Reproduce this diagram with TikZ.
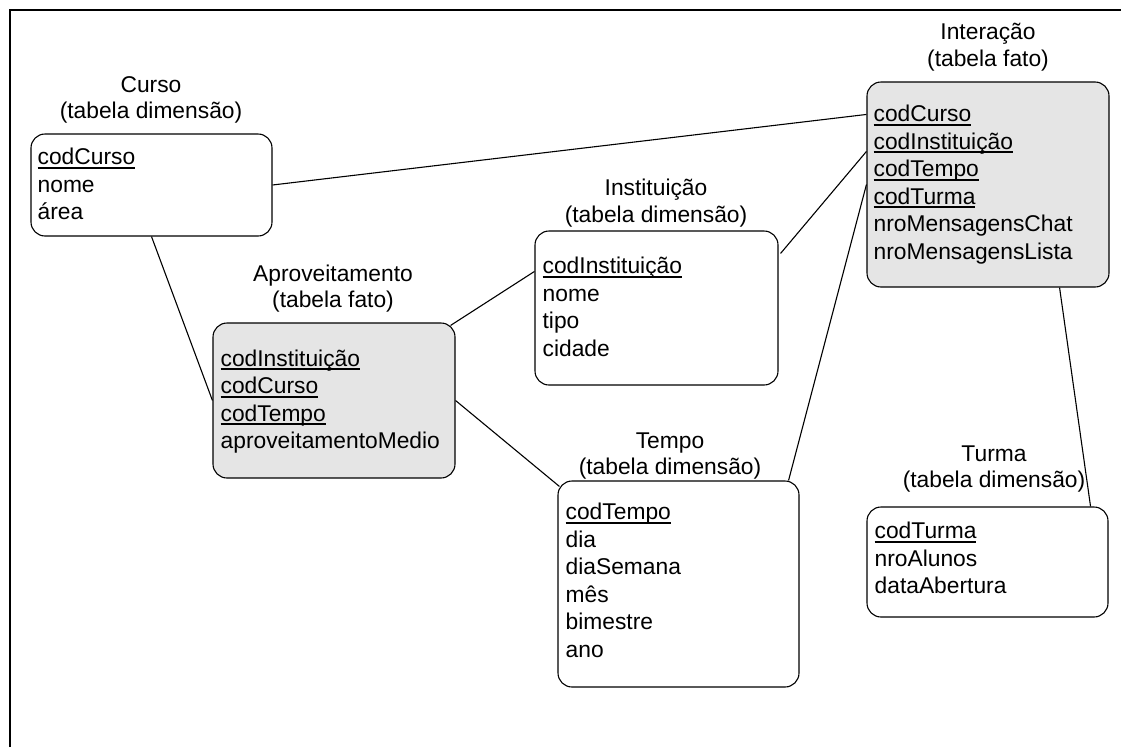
\documentclass[tikz,border=0pt]{standalone}
\usepackage{fontspec}
\setmainfont{Liberation Sans}
\definecolor{factgray}{RGB}{229,229,229}
% key attribute: underline drawn just under the baseline, through any cedilla
\newcommand{\pk}[1]{\setbox0=\hbox{#1}\rlap{\rule[-4.2pt]{\wd0}{1.9pt}}\box0}
\begin{document}
\begin{tikzpicture}[x=1pt,y=-1pt,
  tbl/.style={draw=black, line width=1.1pt, rounded corners=14pt, inner sep=0pt},
  dim/.style={tbl, fill=white},
  fact/.style={tbl, fill=factgray},
  fields/.style={anchor=north west, inner sep=0pt, align=left,
                 font=\fontsize{22.8}{27.5}\selectfont},
  title/.style={anchor=south, inner sep=0pt, align=center,
                font=\fontsize{22.8}{26.8}\selectfont},
  link/.style={draw=black, line width=1.1pt},
  frame/.style={draw=black, line width=2pt}]

\useasboundingbox (0,0) rectangle (1121,747);

% outer frame (left and top edges)
\draw[frame] (10,747) -- (10,10) -- (1121,10);

% tables
\node[dim,  minimum width=241pt, minimum height=102pt] (curso) at (151.5,185)   {};
\node[fact, minimum width=242pt, minimum height=155pt] (aprov) at (334,400.5)   {};
\node[dim,  minimum width=243pt, minimum height=154pt] (inst)  at (656.5,308)   {};
\node[dim,  minimum width=241pt, minimum height=206pt] (tempo) at (678.5,584)   {};
\node[fact, minimum width=242pt, minimum height=205pt] (inter) at (988,184.5)   {};
\node[dim,  minimum width=241pt, minimum height=110pt] (turma) at (987.5,562)   {};

% table titles
\node[title] (cursoT) at (151,123.8) {Curso\\(tabela dimensão)};
\node[title] (aprovT) at (333,312.8) {Aproveitamento\\(tabela fato)};
\node[title] (instT)  at (656,227.5) {Instituição\\(tabela dimensão)};
\node[title] (tempoT) at (670,479.8) {Tempo\\(tabela dimensão)};
\node[title] (interT) at (988,71.5)  {Interação\\(tabela fato)};
\node[title] (turmaT) at (994,492.8) {Turma\\(tabela dimensão)};

% attributes
\node[fields] (cursoF) at ([xshift=7pt,yshift=-14.5pt]curso.north west)
  {\pk{codCurso}\\nome\\área};
\node[fields] (aprovF) at ([xshift=8pt,yshift=-27pt]aprov.north west)
  {\pk{codInstituição}\\\pk{codCurso}\\\pk{codTempo}\\aproveitamentoMedio};
\node[fields] (instF) at ([xshift=8pt,yshift=-26.5pt]inst.north west)
  {\pk{codInstituição}\\nome\\tipo\\cidade};
\node[fields] (tempoF) at ([xshift=8pt,yshift=-22.5pt]tempo.north west)
  {\pk{codTempo}\\dia\\diaSemana\\mês\\bimestre\\ano};
\node[fields] (interF) at ([xshift=7pt,yshift=-23.5pt]inter.north west)
  {\pk{codCurso}\\\pk{codInstituição}\\\pk{codTempo}\\\pk{codTurma}\\nroMensagensChat\\nroMensagensLista};
\node[fields] (turmaF) at ([xshift=8pt,yshift=-15.5pt]turma.north west)
  {\pk{codTurma}\\nroAlunos\\dataAbertura};

% links between tables
\draw[link] (curso.east) -- ([yshift=-33pt]inter.north west);
\draw[link] (curso.south) -- (aprov.west);
\draw[link] ([xshift=-5pt,yshift=-3pt]aprov.north east) -- ([yshift=-41pt]inst.north west);
\draw[link] (aprov.east) -- ([xshift=2pt,yshift=-6pt]tempo.north west);
\draw[link] ([xshift=2pt,yshift=-23pt]inst.north east) -- ([yshift=-70pt]inter.north west);
\draw[link] ([xshift=-11pt]tempo.north east) -- ([yshift=-103pt]inter.north west);
\draw[link] ([xshift=-50pt]inter.south east) -- ([xshift=-18pt]turma.north east);
\end{tikzpicture}
\end{document}
